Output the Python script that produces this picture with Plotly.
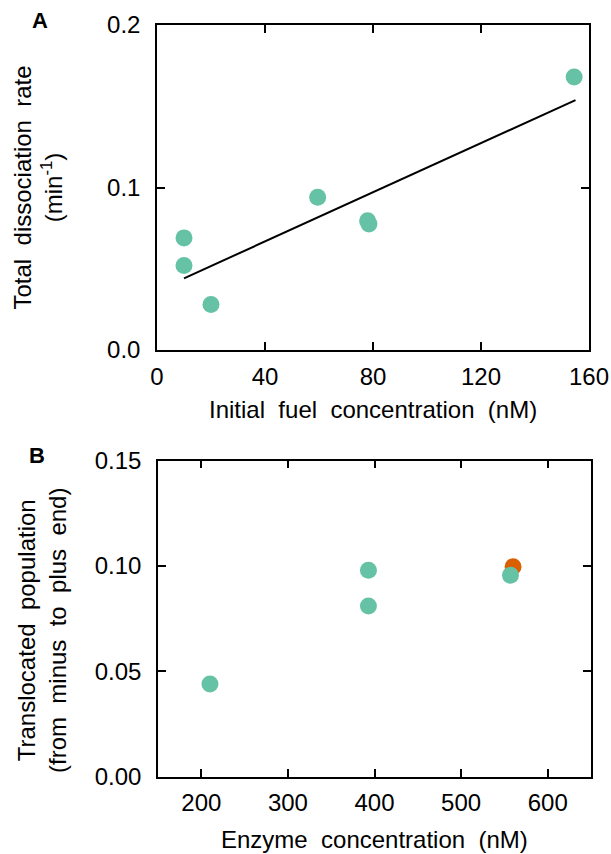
import plotly.graph_objects as go

# Panel A data
fuel_nM = [10, 10, 20, 59.5, 78, 78.5, 154.5]
dissoc_rate = [0.069, 0.052, 0.028, 0.094, 0.0795, 0.0775, 0.168]
fit_x = [10, 155]
fit_y = [0.0441, 0.1538]

# Panel B data
enzyme_nM = [210, 393, 393, 557]
translocated = [0.044, 0.098, 0.081, 0.0956]
enzyme_orange_nM = [560]
translocated_orange = [0.0997]

xticks_a = [0, 40, 80, 120, 160]
yticks_a = [0.0, 0.1, 0.2]
xticks_b = [200, 300, 400, 500, 600]
yticks_b = [0.00, 0.05, 0.10, 0.15]

TEAL = "#66c2a5"
ORANGE = "#d95f02"
FONT = "Liberation Sans, Arial, sans-serif"
W, H = 611, 854
FS = 24


def px(x):
    return x / W


def py(y):
    return 1 - y / H


fig = go.Figure()
fig.add_trace(go.Scatter(x=fit_x, y=fit_y, mode="lines", line=dict(color="black", width=2),
                         xaxis="x", yaxis="y", showlegend=False, hoverinfo="skip"))
fig.add_trace(go.Scatter(x=fuel_nM, y=dissoc_rate, mode="markers",
                         marker=dict(color=TEAL, size=17, line=dict(width=0)),
                         xaxis="x", yaxis="y", showlegend=False))
fig.add_trace(go.Scatter(x=enzyme_orange_nM, y=translocated_orange, mode="markers",
                         marker=dict(color=ORANGE, size=17, line=dict(width=0)),
                         xaxis="x2", yaxis="y2", showlegend=False))
fig.add_trace(go.Scatter(x=enzyme_nM, y=translocated, mode="markers",
                         marker=dict(color=TEAL, size=17, line=dict(width=0)),
                         xaxis="x2", yaxis="y2", showlegend=False))

axis_common = dict(showline=True, linecolor="black", linewidth=1.5, mirror="ticks",
                   ticks="inside", ticklen=8, tickwidth=1.5, tickcolor="black", automargin=False,
                   showgrid=False, zeroline=False, tickfont=dict(size=FS, color="black", family=FONT))

fig.update_layout(
    template="none",
    width=W, height=H, margin=dict(l=0, r=0, t=0, b=0, pad=0),
    paper_bgcolor="white", plot_bgcolor="white",
    font=dict(family=FONT, color="black", size=FS),
    xaxis=dict(domain=[px(157), px(589)], range=[0, 160], tickvals=xticks_a,
               ticktext=[str(v) for v in xticks_a], anchor="y", ticklabelstandoff=4, **axis_common),
    yaxis=dict(domain=[py(350), py(25)], range=[0, 0.2], tickvals=yticks_a,
               ticktext=[f"{v:.1f}" for v in yticks_a], anchor="x", ticklabelstandoff=10, **axis_common),
    xaxis2=dict(domain=[px(158), px(591)], range=[150, 650], tickvals=xticks_b,
                ticktext=[str(v) for v in xticks_b], anchor="y2", ticklabelstandoff=4, **axis_common),
    yaxis2=dict(domain=[py(776.7), py(460.7)], range=[0, 0.15], tickvals=yticks_b,
                ticktext=[f"{v:.2f}" for v in yticks_b], anchor="x2", ticklabelstandoff=10, **axis_common),
)

ann = [
    dict(text="<b>A</b>", x=40, y=20, size=22, angle=0),
    dict(text="<b>B</b>", x=37, y=455, size=22, angle=0),
    dict(text="Initial  fuel  concentration  (nM)", x=373, y=409, size=FS, angle=0),
    dict(text="Total  dissociation  rate<br>(min<sup>-1</sup>)", x=37.5, y=188, size=FS, angle=-90),
    dict(text="Enzyme  concentration  (nM)", x=374.5, y=839, size=FS, angle=0),
    dict(text="Translocated  population<br>(from  minus  to  plus  end)", x=42, y=631, size=FS, angle=-90),
]
for a in ann:
    fig.add_annotation(text=a["text"], x=px(a["x"]), y=py(a["y"]), xref="paper", yref="paper",
                       xanchor="center", yanchor="middle", showarrow=False, textangle=a["angle"],
                       font=dict(size=a["size"], color="black", family=FONT))

fig.write_html("out.html", config={"displayModeBar": False},
               post_script="document.body.style.margin='0';document.body.style.overflow='hidden';")
